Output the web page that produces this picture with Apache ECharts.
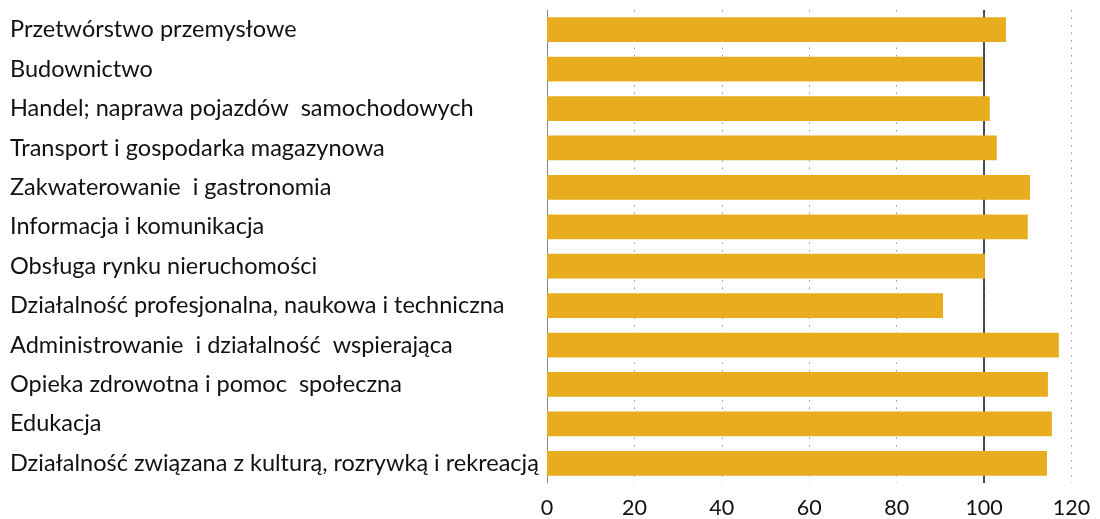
<!DOCTYPE html>
<html>
<head>
<meta charset="utf-8">
<script src="https://cdn.jsdelivr.net/npm/echarts@6/dist/echarts.min.js"></script>
<style>
  html, body { margin: 0; padding: 0; background: #fff; }
  #chart { width: 1100px; height: 519px; }
</style>
</head>
<body>
<div id="chart"></div>
<script>
var categories = [
    'Przetwórstwo przemysłowe',
    'Budownictwo',
    'Handel; naprawa pojazdów  samochodowych',
    'Transport i gospodarka magazynowa',
    'Zakwaterowanie  i gastronomia',
    'Informacja i komunikacja',
    'Obsługa rynku nieruchomości',
    'Działalność profesjonalna, naukowa i techniczna',
    'Administrowanie  i działalność  wspierająca',
    'Opieka zdrowotna i pomoc  społeczna',
    'Edukacja',
    'Działalność związana z kulturą, rozrywką i rekreacją'
];
var values = [105.0, 99.7, 101.3, 102.9, 110.5, 110.0, 100.2, 90.6, 117.1, 114.6, 115.5, 114.4];
var xTicks = [0, 20, 40, 60, 80, 100, 120];

var font = 'Lato, "Open Sans", sans-serif';
var chart = echarts.init(document.getElementById('chart'));
var option = {
    animation: false,
    backgroundColor: '#fff',
    grid: {
        left: 547,
        right: 28.5,
        top: 10,
        bottom: 35
    },
    xAxis: {
        type: 'value',
        min: xTicks[0],
        max: xTicks[xTicks.length - 1],
        interval: 20,
        axisLine: { show: false },
        axisTick: { show: false },
        axisLabel: {
            color: '#111',
            fontSize: 21.5,
            fontFamily: font,
            margin: 14
        },
        splitLine: {
            show: true,
            lineStyle: { color: '#999', width: 1, type: [1.5, 6] }
        }
    },
    yAxis: {
        type: 'category',
        inverse: true,
        data: categories,
        axisLine: { show: true, lineStyle: { color: '#888', width: 1 } },
        axisTick: { show: false },
        axisLabel: {
            align: 'left',
            margin: 537,
            color: '#111',
            fontSize: 23.5,
            fontFamily: font,
            padding: [0, 0, 6, 0]
        }
    },
    series: [{
        type: 'bar',
        data: values,
        barCategoryGap: '37%',
        itemStyle: { color: '#E8AC1F' },
        markLine: {
            silent: true,
            symbol: 'none',
            label: { show: false },
            lineStyle: { color: '#111', width: 1.5, type: 'solid' },
            z: 1,
            data: [{ xAxis: 100 }]
        }
    }]
};
chart.setOption(option);
</script>
</body>
</html>
